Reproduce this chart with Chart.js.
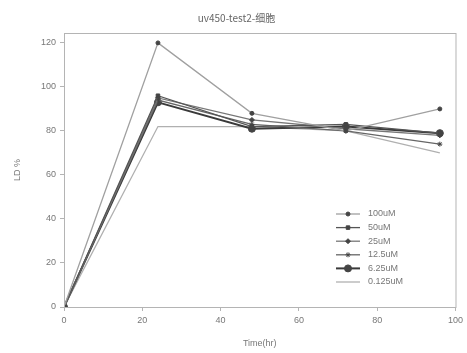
<!DOCTYPE html>
<html>
<head>
<meta charset="utf-8">
<script src="https://cdn.jsdelivr.net/npm/chart.js@4/dist/chart.umd.min.js"></script>
<style>
  html, body { margin: 0; padding: 0; background: #fff; }
  #wrap { width: 467px; height: 353px; }
</style>
</head>
<body>
<div id="wrap"><canvas id="chart" width="467" height="353"></canvas></div>
<script>
// Time points (hr)
const hours = [0, 24, 48, 72, 96];

// tick labels
const xTicks = [0, 20, 40, 60, 80, 100];
const yTicks = [0, 20, 40, 60, 80, 100, 120];

// LD % per concentration
const labels = ['100uM', '50uM', '25uM', '12.5uM', '6.25uM', '0.125uM'];
const ld100 = [0, 120, 88, 80, 90];
const ld50 = [0, 96, 82, 83, 79];
const ld25 = [0, 95, 85, 81, 78];
const ld12 = [0, 94, 83, 80, 74];
const ld6 = [0, 93, 81, 82, 79];
const ld0125 = [0, 82, 82, 80, 70];

const seriesValues = [ld100, ld50, ld25, ld12, ld6, ld0125];

// look of each series
const lineColors = ['#a0a0a0', '#555555', '#777777', '#666666', '#3a3a3a', '#b0b0b0'];
const markers = ['circle', 'rect', 'rectRot', 'star', 'circle', false];
const markerSizes = [2, 2.5, 2.5, 2.5, 3.5, 0];

const datasets = seriesValues.map((vals, i) => ({
    label: labels[i],
    data: vals.map((v, j) => ({ x: hours[j], y: v })),
    borderColor: lineColors[i],
    backgroundColor: '#444',
    pointBorderColor: '#444',
    borderWidth: i === 4 ? 2 : 1.3,
    pointStyle: markers[i],
    pointRadius: markerSizes[i],
    pointBorderWidth: 1,
    tension: 0
}));

// Frame around the plot + legend inside bottom right
const framePlugin = {
    id: 'frame',
    afterDraw(chart) {
        const { ctx, chartArea: a } = chart;
        ctx.save();
        ctx.strokeStyle = '#b4b4b4';
        ctx.lineWidth = 1;
        ctx.strokeRect(a.left + 0.5, a.top + 0.5, a.right - a.left, a.bottom - a.top);

        // legend
        const lx = 336, ty = 214, step = 13.6;
        ctx.font = '9px "Liberation Sans", Arial, sans-serif';
        ctx.textBaseline = 'middle';
        chart.data.datasets.forEach((ds, i) => {
            const y = ty + i * step;
            ctx.strokeStyle = ds.borderColor;
            ctx.lineWidth = ds.borderWidth;
            ctx.beginPath();
            ctx.moveTo(lx, y);
            ctx.lineTo(lx + 24, y);
            ctx.stroke();
            if (ds.pointStyle) {
                ctx.fillStyle = '#444';
                ctx.strokeStyle = '#444';
                ctx.lineWidth = 1;
                Chart.helpers.drawPoint(ctx, {
                    pointStyle: ds.pointStyle,
                    radius: ds.pointRadius,
                    borderWidth: 1
                }, lx + 12, y);
            }
            ctx.fillStyle = '#777';
            ctx.fillText(ds.label, lx + 32, y);
        });
        ctx.restore();
    }
};

new Chart(document.getElementById('chart'), {
    type: 'line',
    data: { datasets: datasets },
    plugins: [framePlugin],
    options: {
        responsive: false,
        animation: false,
        layout: { padding: { left: 8, right: 2, top: 0, bottom: 0 } },
        plugins: {
            legend: { display: false },
            tooltip: { enabled: false },
            title: {
                display: true,
                text: 'uv450-test2-细胞',
                color: '#666',
                font: { family: '"Noto Sans CJK SC", "Liberation Sans", sans-serif', size: 10, weight: 'normal' },
                padding: { top: 12, bottom: 9 }
            }
        },
        scales: {
            x: {
                type: 'linear',
                min: 0,
                max: 100,
                afterBuildTicks(scale) { scale.ticks = xTicks.map(v => ({ value: v })); },
                ticks: {
                    color: '#777',
                    padding: 4,
                    font: { family: '"Liberation Sans", Arial, sans-serif', size: 9 }
                },
                grid: { drawOnChartArea: false, tickLength: 4, color: '#b4b4b4' },
                border: { color: '#b4b4b4' },
                title: {
                    display: true,
                    text: 'Time(hr)',
                    color: '#777',
                    font: { family: '"Liberation Sans", Arial, sans-serif', size: 9 },
                    padding: { top: 10 }
                },
                afterFit(scale) { scale.height = 46; }
            },
            y: {
                min: 0,
                max: 124.5,
                afterBuildTicks(scale) { scale.ticks = yTicks.map(v => ({ value: v })); },
                ticks: {
                    color: '#777',
                    padding: 4,
                    font: { family: '"Liberation Sans", Arial, sans-serif', size: 9 }
                },
                grid: { drawOnChartArea: false, tickLength: 4, color: '#b4b4b4' },
                border: { color: '#b4b4b4' },
                title: {
                    display: true,
                    text: 'LD %',
                    color: '#777',
                    font: { family: '"Liberation Sans", Arial, sans-serif', size: 9 },
                    padding: { bottom: 14 }
                },
                afterFit(scale) { scale.width = 56; }
            }
        }
    }
});
</script>
</body>
</html>
